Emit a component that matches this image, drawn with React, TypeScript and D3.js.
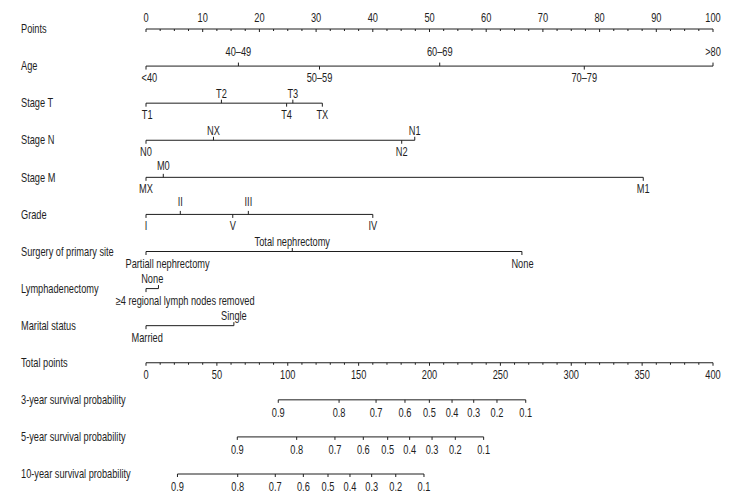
import React from "react";
import * as d3 from "d3";

const W = 744;
const H = 504;

// Row titles
const rowTitles = [
  "Points",
  "Age",
  "Stage T",
  "Stage N",
  "Stage M",
  "Grade",
  "Surgery of primary site",
  "Lymphadenectomy",
  "Marital status",
  "Total points",
  "3-year survival probability",
  "5-year survival probability",
  "10-year survival probability",
];

// Points axis
const pointsLabels = [0, 10, 20, 30, 40, 50, 60, 70, 80, 90, 100];
// Total points axis
const totalLabels = [0, 50, 100, 150, 200, 250, 300, 350, 400];

// Variables: category labels, points, side of label (1 = above, -1 = below), label position (points)
const ageCats = ["<40", "40–49", "50–59", "60–69", "70–79", ">80"];
const agePts = [0, 16.3, 30.6, 51.8, 77.3, 100];
const ageSide = [-1, 1, -1, 1, -1, 1];
const ageLab = [0.6, 16.3, 30.6, 51.8, 77.3, 100];

const tCats = ["T1", "T2", "T3", "T4", "TX"];
const tPts = [0, 13.3, 25.9, 24.8, 31.1];
const tSide = [-1, 1, 1, -1, -1];
const tLab = [0.2, 13.3, 25.9, 24.8, 31.1];

const nCats = ["N0", "NX", "N1", "N2"];
const nPts = [0, 11.9, 47.4, 45.1];
const nSide = [-1, 1, 1, -1];
const nLab = [0, 11.9, 47.4, 45.1];

const mCats = ["MX", "M0", "M1"];
const mPts = [0, 3.05, 87.7];
const mSide = [-1, 1, -1];
const mLab = [0, 3.05, 87.7];

const gradeCats = ["I", "II", "III", "V", "IV"];
const gradePts = [0, 6.05, 18.05, 15.3, 40];
const gradeSide = [-1, 1, 1, -1, -1];
const gradeLab = [0, 6.05, 18.05, 15.3, 40];

const surgCats = ["Partiall nephrectomy", "Total nephrectomy", "None"];
const surgPts = [0, 25.8, 66.3];
const surgSide = [-1, 1, -1];
const surgLab = [3.8, 25.8, 66.4];

const lymphCats = ["None", "≥4 regional lymph nodes removed"];
const lymphPts = [2.2, 0];
const lymphSide = [1, -1];
const lymphLab = [1.1, 6.9];

const maritalCats = ["Married", "Single"];
const maritalPts = [0, 15.5];
const maritalSide = [-1, 1];
const maritalLab = [0.2, 15.5];

// Survival probability axes (positions in total points)
const probLabels = ["0.9", "0.8", "0.7", "0.6", "0.5", "0.4", "0.3", "0.2", "0.1"];
const prob3Pts = [93.3, 136.2, 162.3, 182.7, 199.9, 215.9, 231.2, 247.6, 267.9];
const prob5Pts = [64.4, 106.3, 133.3, 153.3, 170.5, 186.0, 201.8, 218.2, 238.2];
const prob10Pts = [22.2, 64.7, 91.2, 111.0, 128.4, 143.9, 159.2, 176.2, 196.1];

const FONT = "'Liberation Sans', Arial, sans-serif";
const FS = 12;
const SX = 0.77;
const INK = "#1e1e1e";

function T({ x, y, anchor = "middle", children }: { x: number; y: number; anchor?: string; children: any }) {
  return (
    <text transform={`translate(${x},${y}) scale(${SX},1)`} textAnchor={anchor} fill={INK}>
      {children}
    </text>
  );
}

export default function App() {
  const xPts = d3.scaleLinear().domain([0, 100]).range([146, 713]);
  const xTot = d3.scaleLinear().domain([0, 400]).range([146, 713]);
  const yRow = d3.scaleLinear().domain([0, 12]).range([29, 474]);

  const variables = [
    { cats: ageCats, pts: agePts, side: ageSide, lab: ageLab, up: 10 },
    { cats: tCats, pts: tPts, side: tSide, lab: tLab, up: 5 },
    { cats: nCats, pts: nPts, side: nSide, lab: nLab, up: 5.5 },
    { cats: mCats, pts: mPts, side: mSide, lab: mLab, up: 7 },
    { cats: gradeCats, pts: gradePts, side: gradeSide, lab: gradeLab, up: 8 },
    { cats: surgCats, pts: surgPts, side: surgSide, lab: surgLab, up: 5.5 },
    { cats: lymphCats, pts: lymphPts, side: lymphSide, lab: lymphLab, up: 5.5 },
    { cats: maritalCats, pts: maritalPts, side: maritalSide, lab: maritalLab, up: 5.5 },
  ];

  const probs = [prob3Pts, prob5Pts, prob10Pts];

  const pointsMinor = d3.range(0, 100.01, 2.5);
  const totalMinor = d3.range(0, 400.01, 10);

  return (
    <svg
      width={W}
      height={H}
      style={{ position: "absolute", left: 0, top: 0, background: "#fff" }}
      fontFamily={FONT}
      fontSize={FS}
    >
      <rect width={W} height={H} fill="#fff" />
      {rowTitles.map((t, i) => (
        <T key={t} x={21} y={yRow(i) + 4.2} anchor="start">
          {t}
        </T>
      ))}

      {/* Points axis */}
      <g>
        <line x1={xPts(0)} x2={xPts(100)} y1={yRow(0)} y2={yRow(0)} stroke={INK} strokeWidth={1} />
        {pointsMinor.map((v) => (
          <line
            key={v}
            x1={xPts(v)}
            x2={xPts(v)}
            y1={yRow(0)}
            y2={yRow(0) + (v % 10 === 0 ? 3 : 2)}
            stroke={INK}
            strokeWidth={1}
          />
        ))}
        {pointsLabels.map((v) => (
          <T key={v} x={xPts(v)} y={yRow(0) - 7.5}>
            {v}
          </T>
        ))}
      </g>

      {/* Variables */}
      {variables.map((vr, vi) => {
        const y = yRow(vi + 1);
        const ext = d3.extent(vr.pts) as [number, number];
        return (
          <g key={vi}>
            <line x1={xPts(ext[0])} x2={xPts(ext[1])} y1={y} y2={y} stroke={INK} strokeWidth={1} />
            {vr.pts.map((p, k) => (
              <line
                key={"t" + k}
                x1={xPts(p)}
                x2={xPts(p)}
                y1={y}
                y2={y - vr.side[k] * 3.5}
                stroke={INK}
                strokeWidth={1}
              />
            ))}
            {vr.cats.map((c, k) => (
              <T key={"l" + k} x={xPts(vr.lab[k])} y={vr.side[k] > 0 ? y - vr.up : y + 16}>
                {c}
              </T>
            ))}
          </g>
        );
      })}

      {/* Total points axis */}
      <g>
        <line x1={xTot(0)} x2={xTot(400)} y1={yRow(9)} y2={yRow(9)} stroke={INK} strokeWidth={1} />
        {totalMinor.map((v) => (
          <line
            key={v}
            x1={xTot(v)}
            x2={xTot(v)}
            y1={yRow(9)}
            y2={yRow(9) + (v % 50 === 0 ? 3 : 2)}
            stroke={INK}
            strokeWidth={1}
          />
        ))}
        {totalLabels.map((v) => (
          <T key={v} x={xTot(v)} y={yRow(9) + 16}>
            {v}
          </T>
        ))}
      </g>

      {/* Probability axes */}
      {probs.map((arr, pi) => {
        const y = yRow(10 + pi);
        const ext = d3.extent(arr) as [number, number];
        return (
          <g key={pi}>
            <line x1={xTot(ext[0])} x2={xTot(ext[1])} y1={y} y2={y} stroke={INK} strokeWidth={1} />
            {arr.map((p, k) => (
              <line key={"t" + k} x1={xTot(p)} x2={xTot(p)} y1={y} y2={y + 3} stroke={INK} strokeWidth={1} />
            ))}
            {arr.map((p, k) => (
              <T key={"l" + k} x={xTot(p)} y={y + 17}>
                {probLabels[k]}
              </T>
            ))}
          </g>
        );
      })}
    </svg>
  );
}
